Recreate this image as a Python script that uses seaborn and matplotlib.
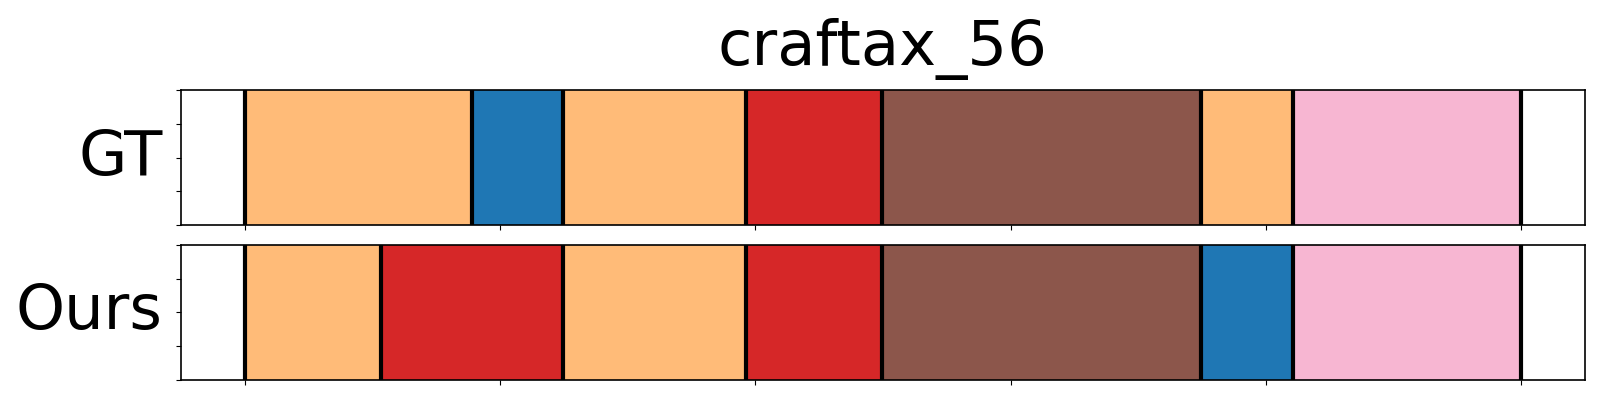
import matplotlib
matplotlib.use("Agg")
import matplotlib.pyplot as plt
import seaborn as sns
import pandas as pd

title = "craftax_56"
row_labels = ["GT", "Ours"]

# segment boundaries (frames) and action labels per row
gt_bounds = [0, 44.6, 62.3, 98.2, 124.8, 187.3, 205.3, 250]
gt_labels = ["orange", "blue", "orange", "red", "brown", "orange", "pink"]
ours_bounds = [0, 26.7, 62.3, 98.2, 124.8, 187.3, 205.3, 250]
ours_labels = ["orange", "red", "orange", "red", "brown", "blue", "pink"]

tab20 = sns.color_palette("tab20")
colors = {"blue": tab20[0], "orange": tab20[3], "red": tab20[6],
          "brown": tab20[10], "pink": tab20[13]}

fig, axes = plt.subplots(2, 1, figsize=(16, 4), dpi=100, sharex=True)
fig.subplots_adjust(left=0.113, right=0.9906, top=0.775, bottom=0.05, hspace=0.148)

for ax, bounds, labels, name in zip(axes, [gt_bounds, ours_bounds],
                                    [gt_labels, ours_labels], row_labels):
    df = pd.DataFrame({"start": bounds[:-1], "end": bounds[1:], "label": labels})
    df["width"] = df["end"] - df["start"]
    ax.barh(0.5, df["width"], left=df["start"], height=1.0,
            color=[colors[l] for l in df["label"]], linewidth=0)
    for b in bounds:
        ax.axvline(b, color="black", linewidth=3)
    ax.set_ylim(0, 1)
    ax.set_xlim(-12.5, 262.5)
    ax.set_yticks([0, 0.25, 0.5, 0.75, 1.0])
    ax.set_yticklabels([])
    ax.set_xticks([0, 50, 100, 150, 200, 250])
    ax.tick_params(axis="x", labelbottom=False)
    ax.set_ylabel(name, rotation=0, fontsize=45, ha="right", va="center", labelpad=6)
    for s in ax.spines.values():
        s.set_linewidth(1.2)

axes[0].set_title(title, fontsize=45, pad=18)
fig.savefig("out.png", dpi=100)
